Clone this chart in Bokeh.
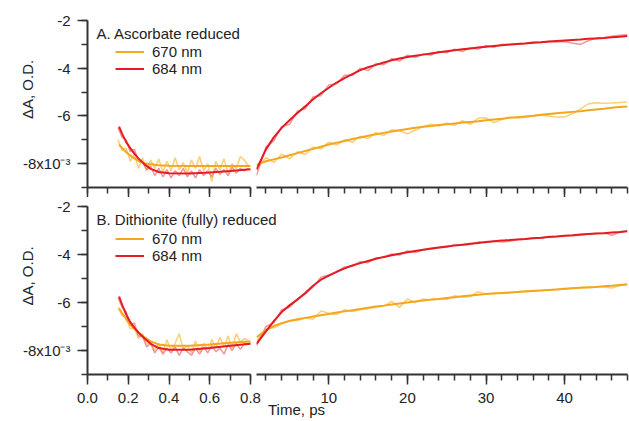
from bokeh.plotting import figure
from bokeh.layouts import row, column
from bokeh.models import (Range1d, SingleIntervalTicker, Label, Legend, LegendItem,
                          CustomJSTickFormatter, PrintfTickFormatter)
from bokeh.embed import file_html
from bokeh.resources import INLINE

FONT = "Liberation Sans"
AX = "#333333"
TXT = "#222222"
OR_FIT = "#F3A61E"
RED_FIT = "#E41B22"
OR_RAW = "#FBC65E"
RED_RAW = "#EE7272"

# ---------------- data (ΔA in units of 1e-3 O.D.) ----------------
T_L = [0.15, 0.17, 0.19, 0.21, 0.23, 0.25, 0.27, 0.29, 0.31, 0.33, 0.35, 0.37, 0.39,
       0.41, 0.43, 0.45, 0.47, 0.49, 0.51, 0.53, 0.55, 0.57, 0.59, 0.61, 0.63, 0.65,
       0.67, 0.69, 0.71, 0.73, 0.75, 0.77, 0.79]
TF_L = [0.155, 0.17, 0.19, 0.21, 0.23, 0.25, 0.28, 0.31, 0.35, 0.4, 0.5, 0.6, 0.7, 0.8]
T_R = [0.8, 2, 3, 4, 5, 6, 7, 8, 9, 10, 11, 12, 13, 14, 15, 16, 17, 18, 19, 20, 21, 22,
       23, 24, 25, 26, 27, 28, 29, 30, 31, 32, 33, 34, 35, 36, 37, 38, 39, 40, 41, 42,
       43, 44, 45, 46, 47, 48]

# Panel A: ascorbate reduced
A670_L_raw = [-7.0, -7.45, -7.35, -7.9, -7.6, -8.2, -7.75, -8.3, -7.85, -8.2, -7.8, -8.35,
              -7.9, -8.3, -7.75, -8.25, -7.95, -8.4, -7.85, -8.2, -7.7, -8.3, -8.0, -8.75,
              -7.9, -8.25, -7.8, -8.4, -8.0, -8.2, -7.7, -7.85, -8.1]
A684_L_raw = [-6.5, -6.9, -7.0, -7.5, -7.4, -7.9, -7.95, -8.25, -8.1, -8.5, -8.2, -8.55,
              -8.25, -8.6, -8.3, -8.5, -8.2, -8.55, -8.3, -8.6, -8.25, -8.5, -8.3, -8.55,
              -8.2, -8.45, -8.25, -8.5, -8.15, -8.4, -8.2, -8.3, -8.2]
A670_L_fit = [-7.2, -7.35, -7.52, -7.66, -7.78, -7.88, -7.98, -8.03, -8.07, -8.09, -8.1,
              -8.1, -8.1, -8.1]
A684_L_fit = [-6.45, -6.75, -7.1, -7.35, -7.58, -7.78, -8.03, -8.22, -8.35, -8.4, -8.41,
              -8.37, -8.31, -8.24]
A670_R_raw = [-8.2, -7.75, -7.95, -7.6, -7.8, -7.5, -7.62, -7.3, -7.38, -7.1, -7.22, -7.0,
              -7.1, -6.85, -6.95, -6.7, -6.82, -6.58, -6.62, -6.75, -6.6, -6.45, -6.35,
              -6.42, -6.3, -6.4, -6.2, -6.35, -6.1, -6.08, -6.28, -6.15, -6.05, -6.1,
              -6.05, -6.0, -5.97, -6.0, -6.05, -6.05, -5.9, -5.72, -5.5, -5.45, -5.47,
              -5.46, -5.44, -5.42]
A670_R_fit = [-8.05, -7.9, -7.82, -7.74, -7.65, -7.56, -7.47, -7.38, -7.29, -7.2, -7.12,
              -7.05, -6.97, -6.9, -6.83, -6.77, -6.71, -6.65, -6.6, -6.55, -6.5, -6.45,
              -6.42, -6.38, -6.35, -6.32, -6.28, -6.25, -6.22, -6.18, -6.15, -6.12, -6.08,
              -6.05, -6.02, -5.99, -5.95, -5.92, -5.89, -5.86, -5.83, -5.8, -5.76, -5.73,
              -5.7, -5.66, -5.63, -5.6]
A684_R_raw = [-8.5, -7.3, -7.05, -6.45, -6.35, -5.8, -5.7, -5.2, -5.15, -4.7, -4.65, -4.3,
              -4.3, -4.0, -4.1, -3.8, -3.85, -3.6, -3.7, -3.45, -3.55, -3.4, -3.45, -3.3,
              -3.35, -3.2, -3.3, -3.15, -3.2, -3.05, -3.12, -3.0, -3.02, -2.97, -2.95,
              -2.9, -2.92, -2.88, -2.9, -2.88, -2.95, -3.0, -2.85, -2.74, -2.72, -2.66,
              -2.62, -2.6]
A684_R_fit = [-8.25, -7.4, -6.9, -6.5, -6.18, -5.88, -5.6, -5.3, -5.05, -4.82, -4.6, -4.42,
              -4.25, -4.08, -3.96, -3.86, -3.76, -3.67, -3.59, -3.53, -3.48, -3.43, -3.38,
              -3.33, -3.29, -3.25, -3.21, -3.17, -3.13, -3.1, -3.07, -3.04, -3.01, -2.98,
              -2.96, -2.93, -2.91, -2.88, -2.86, -2.84, -2.82, -2.8, -2.77, -2.75, -2.73,
              -2.7, -2.68, -2.65]

# Panel B: dithionite (fully) reduced
B670_L_raw = [-6.2, -6.55, -6.6, -7.1, -7.05, -7.5, -7.3, -7.75, -7.6, -8.0, -7.7, -8.1,
              -7.55, -8.0, -7.7, -7.3, -7.95, -7.8, -8.1, -7.6, -8.05, -7.7, -7.95, -7.55,
              -7.9, -7.45, -7.85, -7.4, -7.9, -7.3, -7.65, -7.5, -7.6]
B684_L_raw = [-5.8, -6.2, -6.4, -6.95, -6.85, -7.4, -7.4, -7.85, -7.7, -8.1, -7.85, -8.15,
              -7.9, -8.1, -7.85, -8.2, -7.9, -8.05, -8.2, -7.9, -8.15, -7.85, -8.1, -7.8,
              -8.05, -7.9, -8.15, -7.75, -8.0, -7.7, -7.95, -7.7, -7.75]
B670_L_fit = [-6.25, -6.45, -6.7, -6.92, -7.1, -7.25, -7.45, -7.62, -7.75, -7.8, -7.8,
              -7.75, -7.68, -7.62]
B684_L_fit = [-5.75, -6.1, -6.5, -6.82, -7.05, -7.25, -7.5, -7.72, -7.9, -7.97, -7.97,
              -7.9, -7.8, -7.72]
B670_R_raw = [-7.6, -7.1, -7.05, -6.9, -6.75, -6.75, -6.65, -6.7, -6.35, -6.45, -6.5, -6.3,
              -6.38, -6.3, -6.25, -6.2, -6.15, -5.95, -6.2, -5.85, -6.0, -5.85, -5.9,
              -5.85, -5.88, -5.72, -5.78, -5.75, -5.55, -5.65, -5.6, -5.62, -5.6, -5.55,
              -5.52, -5.5, -5.5, -5.48, -5.45, -5.45, -5.4, -5.38, -5.35, -5.33, -5.35,
              -5.4, -5.3, -5.22]
B670_R_fit = [-7.45, -7.15, -6.98, -6.86, -6.77, -6.7, -6.64, -6.58, -6.53, -6.48, -6.42,
              -6.37, -6.32, -6.27, -6.22, -6.17, -6.13, -6.08, -6.04, -6.0, -5.96, -5.92,
              -5.88, -5.85, -5.81, -5.78, -5.74, -5.71, -5.68, -5.65, -5.62, -5.6, -5.58,
              -5.56, -5.54, -5.52, -5.5, -5.48, -5.46, -5.43, -5.41, -5.39, -5.37, -5.35,
              -5.32, -5.3, -5.27, -5.25]
B684_R_raw = [-7.8, -7.0, -6.85, -6.3, -6.2, -5.85, -5.65, -5.35, -4.95, -4.85, -4.72,
              -4.52, -4.48, -4.3, -4.34, -4.14, -4.12, -3.98, -4.02, -3.85, -3.92, -3.8,
              -3.78, -3.72, -3.7, -3.58, -3.6, -3.58, -3.48, -3.5, -3.45, -3.48, -3.45,
              -3.38, -3.36, -3.3, -3.32, -3.25, -3.25, -3.22, -3.22, -3.2, -3.15, -3.12,
              -3.1, -3.2, -3.08, -3.0]
B684_R_fit = [-7.72, -7.2, -6.78, -6.4, -6.12, -5.88, -5.6, -5.3, -5.05, -4.88, -4.72,
              -4.58, -4.46, -4.36, -4.27, -4.18, -4.1, -4.03, -3.97, -3.91, -3.85, -3.8,
              -3.75, -3.71, -3.67, -3.63, -3.59, -3.55, -3.52, -3.48, -3.45, -3.42, -3.4,
              -3.37, -3.35, -3.32, -3.3, -3.27, -3.25, -3.22, -3.2, -3.17, -3.15, -3.13,
              -3.11, -3.08, -3.06, -3.03]

Y_LABELS = {-2: "-2", -4: "-4", -6: "-6", -8: "-8x10\u207b\u00b3"}
LEGEND_LABELS = ["670 nm", "684 nm"]
TITLES = ["A. Ascorbate reduced", "B. Dithionite (fully) reduced"]
Y_TITLE = "\u0394A, O.D."
X_TITLE = "Time, ps"

# ---------------- layout constants ----------------
L_DATA_W = 163          # pixels used by 0..0.8 ps
L_FRAME_W = 418         # left frame (wider, transparent overlap under right panel)
R_FRAME_W = 371
LEFT_BORDER = 87
GAP = 6
OVERLAP = L_FRAME_W - L_DATA_W
Y_TITLE_SHIFT = "\u00a0" * 7   # lifts the rotated axis title above the frame centre


def style_axis(ax, show_labels):
    ax.axis_line_color = AX
    ax.axis_line_width = 2
    ax.major_tick_line_color = AX
    ax.minor_tick_line_color = AX
    ax.major_tick_line_width = 1.5
    ax.minor_tick_line_width = 1.5
    ax.major_tick_in = 0
    ax.major_tick_out = 10
    ax.minor_tick_in = 0
    ax.minor_tick_out = 6
    ax.major_label_text_font = FONT
    ax.major_label_text_font_size = "15px"
    ax.major_label_text_color = TXT
    ax.major_label_standoff = 8
    ax.axis_label_text_font = FONT
    ax.axis_label_text_font_size = "15px"
    ax.axis_label_text_font_style = "normal"
    ax.axis_label_text_color = TXT
    if not show_labels:
        ax.formatter = CustomJSTickFormatter(code="return ''")
        ax.major_label_standoff = 0


def panel(idx, data, top_b, fh, bot_b, bottom_row):
    (l670r, l684r, l670f, l684f, r670r, r684r, r670f, r684f) = data
    left = figure(frame_width=L_FRAME_W, frame_height=fh,
                  x_range=Range1d(0, 0.8 * L_FRAME_W / L_DATA_W),
                  y_range=Range1d(-9, -2), output_backend="svg", toolbar_location=None,
                  min_border_left=LEFT_BORDER, min_border_right=0, min_border_top=top_b,
                  min_border_bottom=bot_b)
    right = figure(frame_width=R_FRAME_W, frame_height=fh, x_range=Range1d(0.8, 48),
                   y_range=Range1d(-9, -2), output_backend="svg", toolbar_location=None,
                   y_axis_location=None,
                   min_border_left=GAP, min_border_right=2, min_border_top=top_b,
                   min_border_bottom=bot_b, margin=(0, 0, 0, -OVERLAP))
    right.background_fill_color = None
    right.border_fill_color = None
    for p in (left, right):
        p.outline_line_color = None
        p.xgrid.visible = False
        p.ygrid.visible = False
    left.xaxis.ticker = SingleIntervalTicker(interval=0.2, num_minor_ticks=2)
    left.xaxis.bounds = (0, 0.8)
    right.xaxis.ticker = SingleIntervalTicker(interval=10, num_minor_ticks=5)
    left.yaxis.ticker = SingleIntervalTicker(interval=2, num_minor_ticks=2)
    left.xaxis.formatter = PrintfTickFormatter(format="%.1f")
    style_axis(left.xaxis[0], bottom_row)
    style_axis(right.xaxis[0], bottom_row)
    style_axis(left.yaxis[0], True)
    left.yaxis.major_label_overrides = Y_LABELS
    left.yaxis.major_label_standoff = 7
    left.yaxis.axis_label = Y_TITLE_SHIFT + Y_TITLE
    left.yaxis.axis_label_standoff = -16
    if bottom_row:
        left.xaxis.axis_label = X_TITLE
        left.xaxis.axis_label_standoff = -5

    left.line(T_L, l670r, color=OR_RAW, line_width=1.5, alpha=0.85)
    left.line(T_L, l684r, color=RED_RAW, line_width=1.5, alpha=0.75)
    f670 = left.line(TF_L, l670f, color=OR_FIT, line_width=2)
    f684 = left.line(TF_L, l684f, color=RED_FIT, line_width=2)
    right.line(T_R, r670r, color=OR_RAW, line_width=1.5, alpha=0.85)
    right.line(T_R, r684r, color=RED_RAW, line_width=1.5, alpha=0.75)
    right.line(T_R, r670f, color=OR_FIT, line_width=2)
    right.line(T_R, r684f, color=RED_FIT, line_width=2)

    legend = Legend(items=[LegendItem(label=LEGEND_LABELS[0], renderers=[f670]),
                           LegendItem(label=LEGEND_LABELS[1], renderers=[f684])],
                    location=(28, 110), padding=0, margin=0,
                    spacing=0, glyph_width=29, glyph_height=17, label_height=17,
                    label_standoff=8, label_text_font=FONT, label_text_font_size="15px",
                    label_text_color=TXT, background_fill_alpha=0,
                    border_line_color=None)
    left.add_layout(legend)
    left.add_layout(Label(x=9, y=fh - 12.5, x_units="screen", y_units="screen",
                          text=TITLES[idx], text_font=FONT, text_font_size="15px",
                          text_color=TXT, text_baseline="middle"))
    return row(left, right)


top = panel(0, (A670_L_raw, A684_L_raw, A670_L_fit, A684_L_fit,
                A670_R_raw, A684_R_raw, A670_R_fit, A684_R_fit), 20, 167, 10, False)
bot = panel(1, (B670_L_raw, B684_L_raw, B670_L_fit, B684_L_fit,
                B670_R_raw, B684_R_raw, B670_R_fit, B684_R_fit), 9, 168, 47, True)
layout = column(top, bot)

open("out.html", "w").write(file_html(layout, INLINE))
